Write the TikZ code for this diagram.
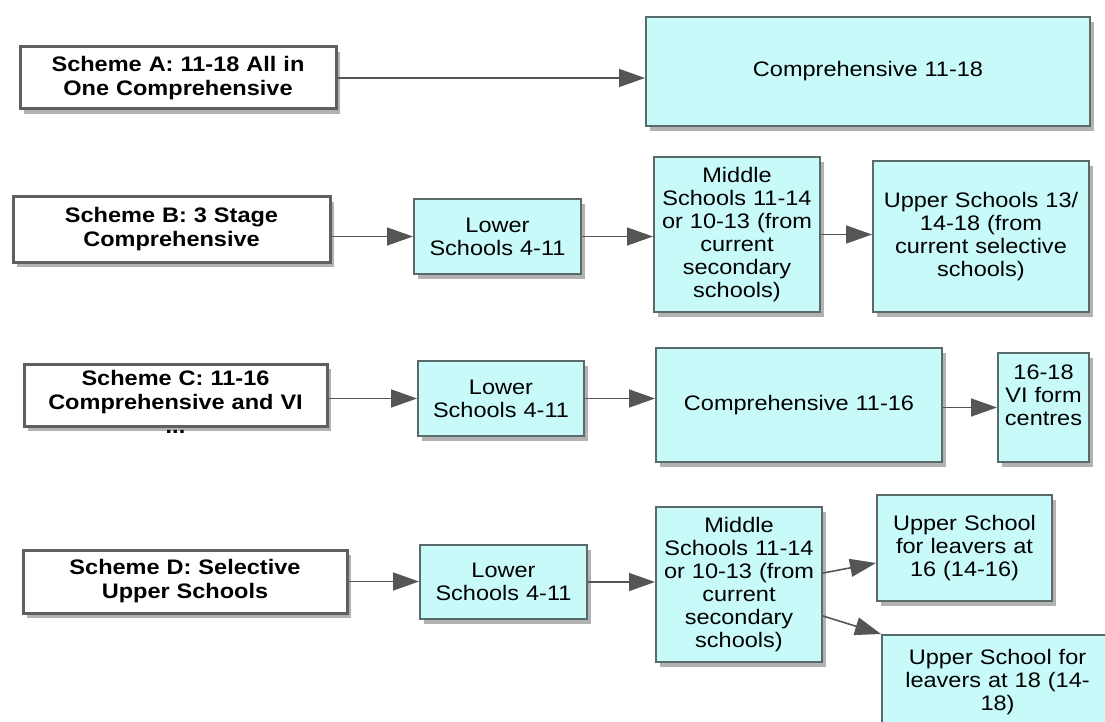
\documentclass[tikz,border=0pt]{standalone}
\usepackage{fontspec}
\setmainfont{Liberation Sans}[FakeStretch=1.12]
\usetikzlibrary{arrows.meta,shadows}
\definecolor{stagefill}{RGB}{200,250,250}
\definecolor{stageline}{RGB}{90,106,106}
\definecolor{schemeline}{RGB}{95,95,95}
\definecolor{arrline}{RGB}{85,85,85}
\begin{document}
\begin{tikzpicture}[x=1pt, y=-1pt,
                scheme/.style = {draw=schemeline, line width=3pt, fill=white, inner sep=0pt,
                    align=center, font=\fontsize{21}{24}\selectfont\bfseries,
                    drop shadow={shadow xshift=4pt, shadow yshift=-5pt, fill=black, opacity=0.3}},
                stage/.style = {draw=stageline, line width=2pt, fill=stagefill, inner sep=0pt,
                    align=center, font=\fontsize{21}{23}\selectfont,
                    drop shadow={shadow xshift=4pt, shadow yshift=-5pt, fill=black, opacity=0.3}},
                arr/.style = {draw=arrline, line width=1.6pt, -{Triangle[length=26pt, width=18pt]}},
            ]
            \useasboundingbox (0,0) rectangle (1105,722);
            \clip (0,0) rectangle (1105,722);

            % scheme A
            \node (SA) [scheme, minimum width=316pt, minimum height=62pt, text width=310pt] at (178,78) {Scheme A: 11-18 All in\\ One Comprehensive};
            \node (C1118) [stage, minimum width=444pt, minimum height=109pt, text width=430pt] at (868,71.5) {Comprehensive 11-18};

            % scheme B
            \node (SB) [scheme, minimum width=317pt, minimum height=65pt, text width=310pt] at (171.5,229.5) {Scheme B: 3 Stage\\ Comprehensive};
            \node (LB) [stage, minimum width=167pt, minimum height=75pt, text width=160pt] at (497.5,236.5) {Lower\\ Schools 4-11};
            \node (MB) [stage, minimum width=166pt, minimum height=155pt, text width=160pt] at (737,234.5) {Middle\\ Schools 11-14\\ or 10-13 (from\\ current\\ secondary\\ schools)};
            \node (UB) [stage, minimum width=216pt, minimum height=151pt, text width=208pt] at (981,236.5) {Upper Schools 13/\\ 14-18 (from\\ current selective\\ schools)};

            % scheme C
            \node (SC) [scheme, minimum width=303pt, minimum height=62pt, text width=297pt, text height=12pt, text depth=31pt] at (175.5,395) {Scheme C: 11-16\\ Comprehensive and VI\\ ...};
            \node (LC) [stage, minimum width=166pt, minimum height=75pt, text width=160pt] at (501,398.5) {Lower\\ Schools 4-11};
            \node (C1116) [stage, minimum width=286pt, minimum height=114pt, text width=276pt] at (799,405) {Comprehensive 11-16};
            \node (VI) [stage, minimum width=91pt, minimum height=109pt, text width=88pt, text height=12pt, text depth=68pt] at (1043.5,407.5) {16-18\\ VI form\\ centres};

            % scheme D
            \node (SD) [scheme, minimum width=324pt, minimum height=63pt, text width=316pt] at (185,581.5) {Scheme D: Selective\\ Upper Schools};
            \node (LD) [stage, minimum width=167pt, minimum height=74pt, text width=160pt] at (503.5,582) {Lower\\ Schools 4-11};
            \node (MD) [stage, minimum width=166pt, minimum height=155pt, text width=160pt] at (739,584.5) {Middle\\ Schools 11-14\\ or 10-13 (from\\ current\\ secondary\\ schools)};
            \node (U16) [stage, minimum width=175pt, minimum height=106pt, text width=168pt] at (964.5,548) {Upper School\\ for leavers at\\ 16 (14-16)};
            \node (U18) [stage, minimum width=231pt, minimum height=94pt, text width=224pt] at (997.5,682) {Upper School for\\ leavers at 18 (14-\\ 18)};

            \path[arr] (SA) -- (SA -| C1118.west);

            \path[arr] (LB.west -| SB.east) -- (LB.west);
            \path[arr] (LB) -- (LB -| MB.west);
            \path[arr] (MB) -- (MB -| UB.west);

            \path[arr] (LC.west -| SC.east) -- (LC.west);
            \path[arr] (LC) -- (LC -| C1116.west);
            \path[arr] (VI.west -| C1116.east) -- (VI.west);

            \path[arr] (SD) -- (SD -| LD.west);
            \path[arr] (LD) -- (LD -| MD.west);
            \path[arr] ([yshift=11.5pt]MD.east) -- ([yshift=-15pt]U16.west);
            \path[arr] ([yshift=-31.5pt]MD.east) -- (U18.north west);
        \end{tikzpicture}
\end{document}
